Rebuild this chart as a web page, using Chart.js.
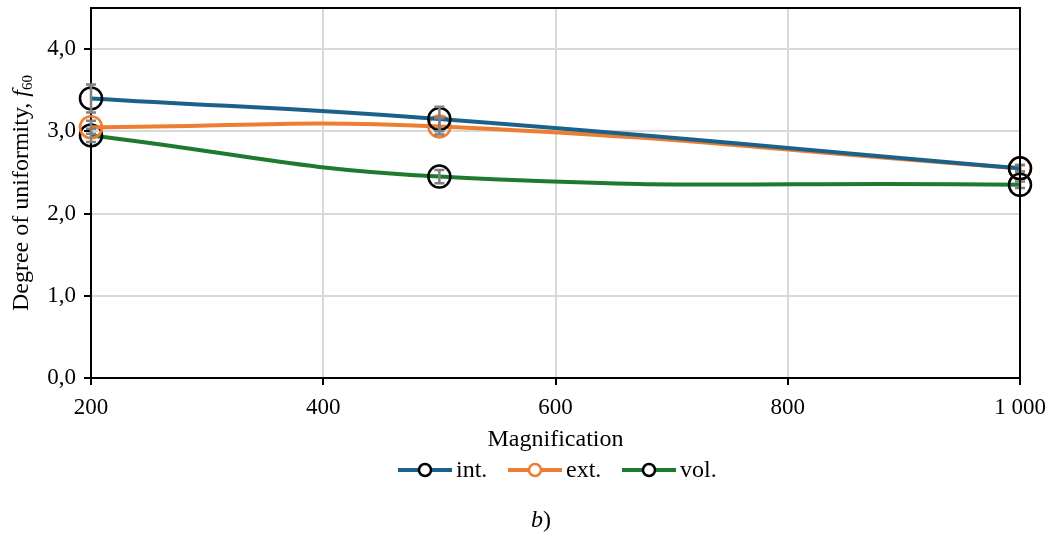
<!DOCTYPE html>
<html>
<head>
<meta charset="utf-8">
<script src="https://cdn.jsdelivr.net/npm/chart.js@4.4.0/dist/chart.umd.min.js"></script>
<style>
    html, body { margin: 0; padding: 0; background: #fff; }
    #wrap { position: relative; width: 1051px; height: 542px; }
</style>
</head>
<body>
<div id="wrap"><canvas id="chart" width="1051" height="542"></canvas></div>
<script>
// data
const magnification = [200, 500, 1000];
const intValues = [3.40, 3.15, 2.55];
const extValues = [3.05, 3.06, 2.55];
const volValues = [2.95, 2.45, 2.35];
const intErrors = [0.17, 0.15, 0.04];
const extErrors = [0.08, 0.10, 0.04];
const volErrors = [0.08, 0.08, 0.04];
const xTicks = [200, 400, 600, 800, 1000];
const yTicks = [0, 1, 2, 3, 4];

const FONT = "'Liberation Serif', 'Times New Roman', serif";
Chart.defaults.font.family = FONT;
Chart.defaults.font.size = 23;
Chart.defaults.color = "#000";

const colors = { int: "#1b6189", ext: "#ed7d31", vol: "#1f7a2f" };

function makeSeries(label, values, errors, lineColor, markerColor) {
    return {
        label: label,
        data: magnification.map((m, i) => ({ x: m, y: values[i] })),
        errors: errors,
        borderColor: lineColor,
        borderWidth: 4,
        tension: 0.45,
        pointRadius: 11,
        pointHoverRadius: 11,
        pointBorderWidth: 2.5,
        pointBorderColor: markerColor,
        pointBackgroundColor: "rgba(0,0,0,0)",
        clip: false
    };
}

// grey error bars, drawn through the scales
const errorBars = {
    id: "errorBars",
    afterDatasetsDraw(chart) {
        const ctx = chart.ctx;
        const xs = chart.scales.x, ys = chart.scales.y;
        ctx.save();
        ctx.strokeStyle = "#808080";
        ctx.lineWidth = 2.5;
        chart.data.datasets.forEach(ds => {
            ds.data.forEach((p, i) => {
                const e = ds.errors[i];
                const px = xs.getPixelForValue(p.x);
                const top = ys.getPixelForValue(p.y + e);
                const bot = ys.getPixelForValue(p.y - e);
                ctx.beginPath();
                ctx.moveTo(px, top); ctx.lineTo(px, bot);
                ctx.moveTo(px - 5, top); ctx.lineTo(px + 5, top);
                ctx.moveTo(px - 5, bot); ctx.lineTo(px + 5, bot);
                ctx.stroke();
            });
        });
        ctx.restore();
    }
};

// frame, titles, legend, caption
const decorations = {
    id: "decorations",
    afterDraw(chart) {
        const ctx = chart.ctx;
        const a = chart.chartArea;
        ctx.save();
        ctx.strokeStyle = "#000";
        ctx.lineWidth = 2;
        ctx.beginPath();
        ctx.moveTo(a.left, a.top); ctx.lineTo(a.right, a.top); ctx.lineTo(a.right, a.bottom);
        ctx.stroke();

        // x title
        ctx.fillStyle = "#000";
        ctx.font = "24px " + FONT;
        ctx.textAlign = "center";
        ctx.textBaseline = "middle";
        ctx.fillText("Magnification", (a.left + a.right) / 2, 440);

        // y title with italic f and subscript 60
        const parts = [
            { t: "Degree of uniformity, ", f: "24px " + FONT, dy: 0 },
            { t: "f", f: "italic 24px " + FONT, dy: 0 },
            { t: "60", f: "15px " + FONT, dy: 6 }
        ];
        let total = 0;
        parts.forEach(p => { ctx.font = p.f; p.w = ctx.measureText(p.t).width; total += p.w; });
        ctx.translate(22, (a.top + a.bottom) / 2);
        ctx.rotate(-Math.PI / 2);
        ctx.textAlign = "left";
        ctx.textBaseline = "middle";
        let x = -total / 2;
        parts.forEach(p => { ctx.font = p.f; ctx.fillText(p.t, x, p.dy); x += p.w; });
        ctx.setTransform(1, 0, 0, 1, 0, 0);

        // legend
        const items = [
            { label: "int.", line: colors.int, marker: "#000", x: 398 },
            { label: "ext.", line: colors.ext, marker: colors.ext, x: 508 },
            { label: "vol.", line: colors.vol, marker: "#000", x: 622 }
        ];
        const ly = 470;
        items.forEach(it => {
            ctx.strokeStyle = it.line;
            ctx.lineWidth = 4;
            ctx.beginPath();
            ctx.moveTo(it.x, ly); ctx.lineTo(it.x + 54, ly);
            ctx.stroke();
            ctx.strokeStyle = it.marker;
            ctx.lineWidth = 2.5;
            ctx.fillStyle = "#fff";
            ctx.beginPath();
            ctx.arc(it.x + 27, ly, 6, 0, Math.PI * 2);
            ctx.fill();
            ctx.stroke();
            ctx.fillStyle = "#000";
            ctx.font = "24px " + FONT;
            ctx.textAlign = "left";
            ctx.fillText(it.label, it.x + 58, ly + 1);
        });

        // caption
        ctx.font = "italic 24px " + FONT;
        const bw = ctx.measureText("b").width;
        ctx.font = "24px " + FONT;
        const pw = ctx.measureText(")").width;
        let cx = 541 - (bw + pw) / 2;
        ctx.font = "italic 24px " + FONT;
        ctx.fillText("b", cx, 521);
        ctx.font = "24px " + FONT;
        ctx.fillText(")", cx + bw, 521);
        ctx.restore();
    }
};

const chart = new Chart(document.getElementById("chart"), {
    type: "line",
    data: {
        datasets: [
            makeSeries("int.", intValues, intErrors, colors.int, "#000"),
            makeSeries("ext.", extValues, extErrors, colors.ext, colors.ext),
            makeSeries("vol.", volValues, volErrors, colors.vol, "#000")
        ]
    },
    options: {
        responsive: false,
        devicePixelRatio: 1,
        animation: false,
        layout: { autoPadding: false, padding: { left: 0, right: 31, top: 8, bottom: 0 } },
        plugins: { legend: { display: false }, tooltip: { enabled: false } },
        scales: {
            x: {
                type: "linear",
                min: 200,
                max: 1000,
                afterBuildTicks: scale => { scale.ticks = xTicks.map(v => ({ value: v })); },
                afterFit: scale => {
                    scale.height = 164;
                    scale.paddingLeft = 0; scale.paddingRight = 0;
                },
                grid: { color: "#d9d9d9", lineWidth: 2, tickColor: "#000", tickLength: 7 },
                border: { color: "#000", width: 2 },
                ticks: {
                    padding: 9,
                    maxRotation: 0,
                    callback: v => v >= 1000 ? Math.floor(v / 1000) + " " + String(v % 1000).padStart(3, "0") : String(v)
                }
            },
            y: {
                min: 0,
                max: 4.5,
                afterBuildTicks: scale => { scale.ticks = yTicks.map(v => ({ value: v })); },
                afterFit: scale => {
                    scale.width = 91;
                    scale.paddingTop = 0; scale.paddingBottom = 0;
                },
                grid: { color: "#d9d9d9", lineWidth: 2, tickColor: "#000", tickLength: 7 },
                border: { color: "#000", width: 2 },
                ticks: {
                    padding: 8,
                    callback: v => v.toFixed(1).replace(".", ",")
                }
            }
        }
    },
    plugins: [errorBars, decorations]
});
</script>
</body>
</html>
